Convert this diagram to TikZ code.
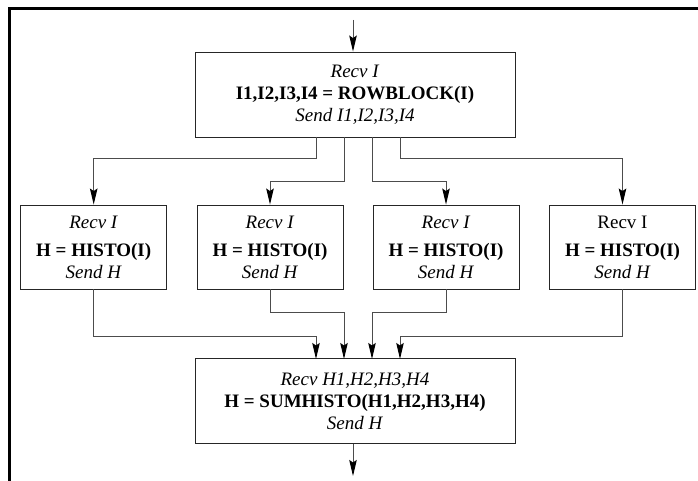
\documentclass[tikz,border=0pt]{standalone}
\usepackage{fontspec}
\setmainfont{Liberation Serif}
\usetikzlibrary{arrows.meta,calc}

\tikzset{
  procbox/.style={draw=black!85, line width=0.9pt, rectangle, inner sep=0pt,
    align=center, font=\fontsize{19}{22}\selectfont},
  wide/.style={procbox, minimum width=320pt, minimum height=85pt},
  narrow/.style={procbox, minimum width=146pt, minimum height=84pt},
  conn/.style={draw=black!70, line width=1pt},
  arr/.style={conn, -{Stealth[length=16pt,width=7.5pt,inset=2.5pt,color=black]}},
  frameline/.style={draw=black, line width=2.8pt}
}

\begin{document}
\begin{tikzpicture}[x=1pt,y=-1pt]
  \useasboundingbox (0,0) rectangle (698,481);

  % page frame (left and top edges)
  \draw[frameline] (9.5,490) -- (9.5,8.5) -- (710,8.5);

  % distribution stage
  \node[wide] (split) at (355,94.5)
    {\textit{Recv I}\\ \textbf{I1,I2,I3,I4 = ROWBLOCK(I)}\\ \textit{Send I1,I2,I3,I4}};

  % four histogram workers
  \node[narrow] (w1) at (93.7,247)
    {\textit{Recv I}\\[6pt] \textbf{H = HISTO(I)}\\ \textit{Send H}};
  \node[narrow] (w2) at (270,247)
    {\textit{Recv I}\\[6pt] \textbf{H = HISTO(I)}\\ \textit{Send H}};
  \node[narrow] (w3) at (446,247)
    {\textit{Recv I}\\[6pt] \textbf{H = HISTO(I)}\\ \textit{Send H}};
  \node[narrow] (w4) at (622.5,247)
    {Recv I\\[6pt] \textbf{H = HISTO(I)}\\ \textit{Send H}};

  % reduction stage
  \node[wide] (sum) at (355,401)
    {\textit{Recv H1,H2,H3,H4}\\ \textbf{H = SUMHISTO(H1,H2,H3,H4)}\\ \textit{Send H}};

  % ports on the wide boxes
  \coordinate (in)  at (353,20);
  \coordinate (out) at (353,476);
  \coordinate (s1) at (316,137);
  \coordinate (s2) at (344,137);
  \coordinate (s3) at (372,137);
  \coordinate (s4) at (400,137);
  \coordinate (t1) at (316,359);
  \coordinate (t2) at (344,359);
  \coordinate (t3) at (372,359);
  \coordinate (t4) at (400,359);

  % input and output
  \draw[arr] (in) -- (in |- split.north);
  \draw[arr] (sum.south -| out) -- (out);

  % fan-out
  \draw[arr] (s1) -- ++(0,22) -| (w1.north);
  \draw[arr] (s2) -- ++(0,45) -| (w2.north);
  \draw[arr] (s3) -- ++(0,45) -| (w3.north);
  \draw[arr] (s4) -- ++(0,22) -| (w4.north);

  % fan-in
  \draw[arr] (w1.south) -- ++(0,47) -| (t1);
  \draw[arr] (w2.south) -- ++(0,23) -| (t2);
  \draw[arr] (w3.south) -- ++(0,23) -| (t3);
  \draw[arr] (w4.south) -- ++(0,47) -| (t4);
\end{tikzpicture}
\end{document}
